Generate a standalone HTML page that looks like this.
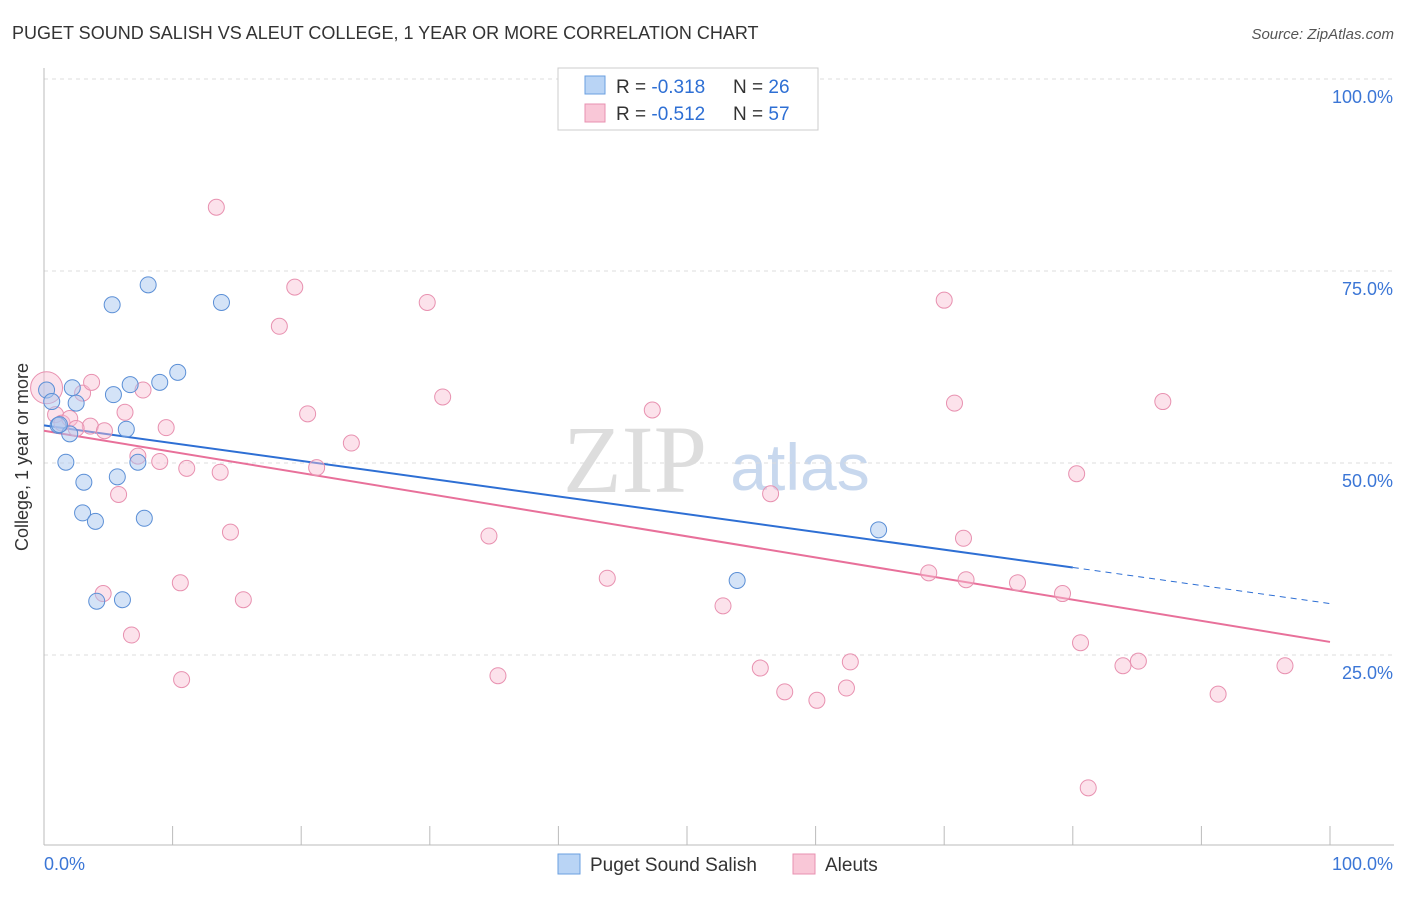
<!DOCTYPE html>
<html><head><meta charset="utf-8"><style>
body{margin:0;background:#fff;font-family:"Liberation Sans",sans-serif;}
</style></head><body>
<svg id="chart" width="1406" height="892" xmlns="http://www.w3.org/2000/svg">
<text x="12" y="39" font-size="18" fill="#333">PUGET SOUND SALISH VS ALEUT COLLEGE, 1 YEAR OR MORE CORRELATION CHART</text>
<text x="1394" y="39" font-size="15" fill="#555" text-anchor="end" font-style="italic">Source: ZipAtlas.com</text>
<text x="28" y="457" font-size="18" fill="#333" text-anchor="middle" transform="rotate(-90 28 457)">College, 1 year or more</text>
<text x="635" y="492" font-size="96" fill="#ddd" font-family="Liberation Serif,serif" text-anchor="middle">ZIP</text>
<text x="800" y="490" font-size="66" fill="#c8d8ee" text-anchor="middle">atlas</text>
<g id="grid"></g><g id="axes"></g><g id="trends"></g><g id="pts"></g>
<g>
<rect x="558" y="68" width="260" height="62" fill="#fff" stroke="#ccc"/>
<rect x="585" y="76" width="20" height="18" fill="#b9d4f5" stroke="#6a9fe0"/>
<text x="616" y="93" font-size="19" fill="#333">R = <tspan fill="#2e6fd4">-0.318</tspan></text>
<text x="733" y="93" font-size="19" fill="#333">N = <tspan fill="#2e6fd4">26</tspan></text>
<rect x="585" y="104" width="20" height="18" fill="#f9c7d7" stroke="#e891b0"/>
<text x="616" y="120" font-size="19" fill="#333">R = <tspan fill="#2e6fd4">-0.512</tspan></text>
<text x="733" y="120" font-size="19" fill="#333">N = <tspan fill="#2e6fd4">57</tspan></text>
</g>
<g>
<rect x="558" y="854" width="22" height="20" fill="#b9d4f5" stroke="#6a9fe0"/>
<text x="590" y="871" font-size="19" fill="#333">Puget Sound Salish</text>
<rect x="793" y="854" width="22" height="20" fill="#f9c7d7" stroke="#e891b0"/>
<text x="825" y="871" font-size="19" fill="#333">Aleuts</text>
</g>
</svg>
<script>
const yTicks=[0.25,0.5,0.75,1.0];
const yTickLabels=["25.0%","50.0%","75.0%","100.0%"];
const blueX=[0.2,0.6,2.2,2.5,1.1,2.0,1.7,3.1,3.0,4.0,5.3,8.1,6.7,5.4,6.4,5.7,7.3,7.8,9.0,10.4,13.8,4.1,6.1,53.9,64.9,1.2];
const blueY=[59.5,58.0,59.8,57.8,54.9,53.8,50.1,47.5,43.5,42.4,70.6,73.2,60.2,58.9,54.4,48.2,50.1,42.8,60.5,61.8,70.9,32.0,32.2,34.7,41.3,55.0];
const pinkX=[0.2,0.9,1.4,3.0,3.7,3.6,4.7,5.8,6.3,6.8,4.6,7.7,7.3,9.0,9.5,11.1,10.6,10.7,13.4,13.7,14.5,15.5,18.3,19.5,20.5,21.2,23.9,29.8,31.0,34.6,35.3,43.8,47.3,52.8,55.7,56.5,57.6,60.1,62.4,62.7,68.8,70.0,70.8,71.5,71.7,75.7,79.2,80.3,80.6,81.2,83.9,85.1,87.0,91.3,96.5,2.0,2.5];
const pinkY=[59.8,56.3,55.2,59.1,60.5,54.8,54.2,45.9,56.6,27.6,33.0,59.5,50.9,50.2,54.6,49.3,34.4,21.8,83.3,48.8,41.0,32.2,67.8,72.9,56.4,49.4,52.6,70.9,58.6,40.5,22.3,35.0,56.9,31.4,23.3,46.0,20.2,19.1,20.7,24.1,35.7,71.2,57.8,40.2,34.8,34.4,33.0,48.6,26.6,7.7,23.6,24.2,58.0,19.9,23.6,55.8,54.5];
const blueTrend=[54.9,36.4,31.7]; const blueTrendX=[0,80,100];
const pinkTrend=[54.2,26.7]; const pinkTrendX=[0,100];
const NS="http://www.w3.org/2000/svg";
const X0=44,X1=1330,Y0=847,Y1=79;
const sx=v=>X0+(X1-X0)*v/100, sy=v=>Y0-(Y0-Y1)*v/100;
function mk(tag,attrs,parent){const e=document.createElementNS(NS,tag);for(const k in attrs)e.setAttribute(k,attrs[k]);document.getElementById(parent).appendChild(e);return e;}
yTicks.forEach((t,i)=>{
 const l=mk('line',{x1:X0,x2:1394,y1:sy(t*100),y2:sy(t*100),stroke:'#ddd','stroke-dasharray':'4,4'},'grid');
 
 
 const tx=mk('text',{x:1393,y:sy(t*100)+24,'font-size':18,fill:'#3b76d6','text-anchor':'end'},'grid');
 tx.textContent=yTickLabels[i];
 
 
});
const ax=mk('line',{x1:X0,x2:X0,y1:68,y2:845,stroke:'#bbb'},'axes');


const bx=mk('line',{x1:X0,x2:1394,y1:845,y2:845,stroke:'#bbb'},'axes');


for(let i=0;i<=10;i++){const t=mk('line',{x1:sx(i*10),x2:sx(i*10),y1:826,y2:845,stroke:'#bbb'},'axes');
 
 }
[["0.0%",X0,'start'],["100.0%",1393,'end']].forEach(a=>{const t=mk('text',{x:a[1],y:870,'font-size':18,fill:'#3b76d6','text-anchor':a[2]},'axes');t.textContent=a[0];
 
 });
const b1=mk('line',{x1:sx(blueTrendX[0]),y1:sy(blueTrend[0]),x2:sx(blueTrendX[1]),y2:sy(blueTrend[1]),stroke:'#2e6fd4','stroke-width':2},'trends');


const b2=mk('line',{x1:sx(blueTrendX[1]),y1:sy(blueTrend[1]),x2:sx(blueTrendX[2]),y2:sy(blueTrend[2]),stroke:'#2e6fd4','stroke-width':1,'stroke-dasharray':'6,5'},'trends');


const p1=mk('line',{x1:sx(pinkTrendX[0]),y1:sy(pinkTrend[0]),x2:sx(pinkTrendX[1]),y2:sy(pinkTrend[1]),stroke:'#e8709a','stroke-width':2},'trends');


pinkX.forEach((x,i)=>{const c=mk('circle',{cx:sx(x),cy:sy(pinkY[i]),r:i==0?16:8,fill:'rgba(249,190,210,0.45)',stroke:'#e891b0','stroke-width':1},'pts');
 
 });
blueX.forEach((x,i)=>{const c=mk('circle',{cx:sx(x),cy:sy(blueY[i]),r:8,fill:'rgba(170,200,240,0.5)',stroke:'#5b8fd6','stroke-width':1},'pts');
 
 });
</script>
</body></html>
